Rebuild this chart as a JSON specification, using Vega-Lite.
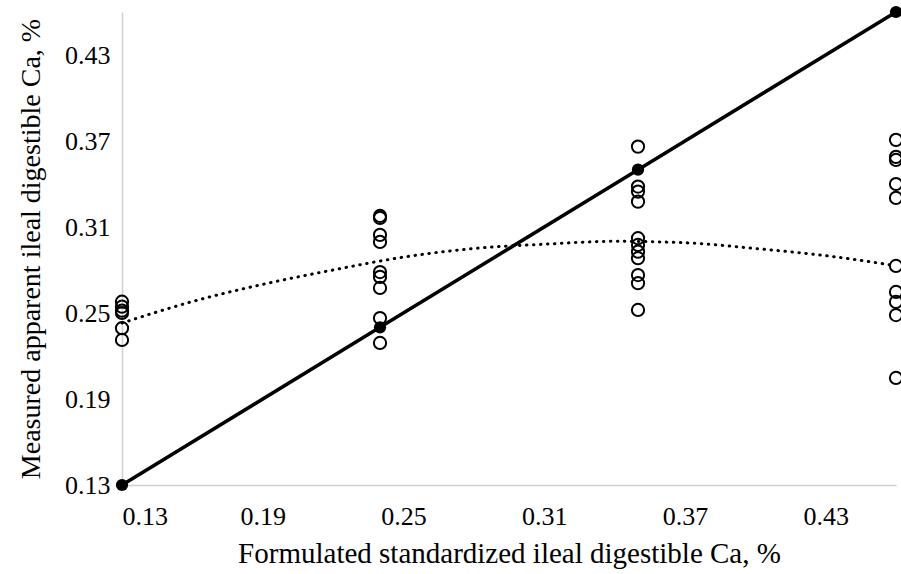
{
  "$schema": "https://vega.github.io/schema/vega-lite/v6.json",
  "width": 774,
  "height": 473,
  "autosize": "none",
  "padding": {"left": 122, "top": 12, "right": 5, "bottom": 89},
  "background": "white",
  "config": {
    "view": {"stroke": null},
    "font": "Liberation Serif",
    "axis": {
      "labelFont": "Liberation Serif",
      "titleFont": "Liberation Serif",
      "labelColor": "#000000",
      "titleColor": "#000000",
      "labelFontSize": 26,
      "titleFontSize": 28,
      "titleFontWeight": "normal",
      "grid": false,
      "ticks": false,
      "domainColor": "#d0d0d0",
      "domainWidth": 1.5
    }
  },
  "datasets": {
    "obs": [
      {"x": 0.13, "y": 0.2579}, {"x": 0.13, "y": 0.2544}, {"x": 0.13, "y": 0.2516},
      {"x": 0.13, "y": 0.2394}, {"x": 0.13, "y": 0.2312}, {"x": 0.13, "y": 0.2500},
      {"x": 0.24, "y": 0.3177}, {"x": 0.24, "y": 0.3163}, {"x": 0.24, "y": 0.3045},
      {"x": 0.24, "y": 0.2996}, {"x": 0.24, "y": 0.2786}, {"x": 0.24, "y": 0.2752},
      {"x": 0.24, "y": 0.2675}, {"x": 0.24, "y": 0.2465}, {"x": 0.24, "y": 0.2291},
      {"x": 0.35, "y": 0.3661}, {"x": 0.35, "y": 0.3382}, {"x": 0.35, "y": 0.3347},
      {"x": 0.35, "y": 0.3277}, {"x": 0.35, "y": 0.3022}, {"x": 0.35, "y": 0.2975},
      {"x": 0.35, "y": 0.2928}, {"x": 0.35, "y": 0.2882}, {"x": 0.35, "y": 0.2765},
      {"x": 0.35, "y": 0.2708}, {"x": 0.35, "y": 0.2521},
      {"x": 0.46, "y": 0.3708}, {"x": 0.46, "y": 0.3589}, {"x": 0.46, "y": 0.3568},
      {"x": 0.46, "y": 0.3400}, {"x": 0.46, "y": 0.3303}, {"x": 0.46, "y": 0.2828},
      {"x": 0.46, "y": 0.2647}, {"x": 0.46, "y": 0.2577}, {"x": 0.46, "y": 0.2486},
      {"x": 0.46, "y": 0.2047}
    ],
    "fit": [
      {"x": 0.13, "y": 0.243}, {"x": 0.16, "y": 0.258}, {"x": 0.19, "y": 0.270},
      {"x": 0.22, "y": 0.280}, {"x": 0.25, "y": 0.289}, {"x": 0.28, "y": 0.295},
      {"x": 0.31, "y": 0.298}, {"x": 0.34, "y": 0.300}, {"x": 0.37, "y": 0.299},
      {"x": 0.40, "y": 0.295}, {"x": 0.43, "y": 0.290}, {"x": 0.46, "y": 0.283}
    ],
    "ideal": [
      {"x": 0.13, "y": 0.13}, {"x": 0.24, "y": 0.24}, {"x": 0.35, "y": 0.35}, {"x": 0.46, "y": 0.46}
    ]
  },
  "encoding": {
    "x": {
      "field": "x", "type": "quantitative",
      "scale": {"domain": [0.13, 0.46], "nice": false, "zero": false},
      "axis": {
        "values": [0.13, 0.19, 0.25, 0.31, 0.37, 0.43],
        "format": ".2f",
        "labelPadding": 18,
        "titlePadding": 10,
        "titleFontSize": 29,
        "title": "Formulated standardized ileal digestible Ca, %"
      }
    },
    "y": {
      "field": "y", "type": "quantitative",
      "scale": {"domain": [0.13, 0.46], "nice": false, "zero": false},
      "axis": {
        "values": [0.13, 0.19, 0.25, 0.31, 0.37, 0.43],
        "format": ".2f",
        "labelPadding": 12,
        "titlePadding": 19,
        "title": "Measured apparent ileal digestible Ca, %"
      }
    }
  },
  "layer": [
    {
      "data": {"name": "obs"},
      "mark": {"type": "point", "shape": "circle", "size": 150, "filled": false, "stroke": "#000000", "strokeWidth": 2, "opacity": 1, "clip": false}
    },
    {
      "data": {"name": "fit"},
      "mark": {"type": "line", "interpolate": "monotone", "color": "#000000", "strokeWidth": 3, "strokeDash": [0.5, 6.5], "strokeCap": "round"}
    },
    {
      "data": {"name": "ideal"},
      "mark": {"type": "line", "color": "#000000", "strokeWidth": 3.5}
    },
    {
      "data": {"name": "ideal"},
      "mark": {"type": "point", "shape": "circle", "size": 150, "filled": true, "color": "#000000", "opacity": 1, "clip": false}
    }
  ]
}
